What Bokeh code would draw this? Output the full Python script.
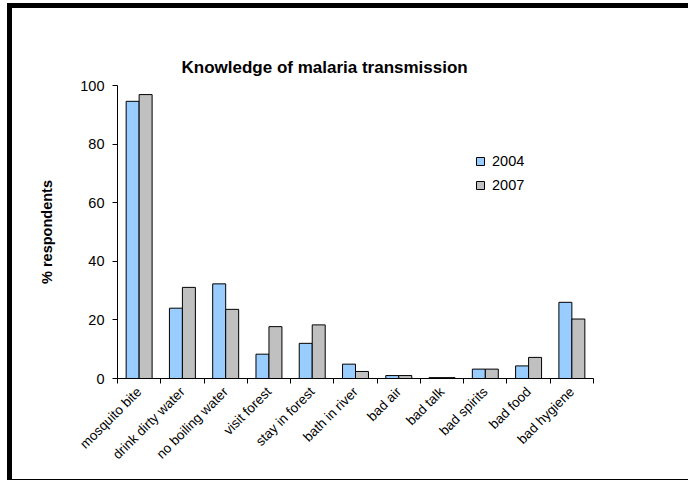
import numpy as np
from bokeh.plotting import figure
from bokeh.models import Range1d, FixedTicker, ColumnDataSource, Legend, LegendItem
from bokeh.embed import file_html
from bokeh.resources import INLINE

categories = ["mosquito bite", "drink dirty water", "no boiling water", "visit forest",
              "stay in forest", "bath in river", "bad air", "bad talk", "bad spirits",
              "bad food", "bad hygiene"]
y2004 = [94.6, 24.0, 32.3, 8.3, 12.0, 4.9, 1.0, 0.3, 3.2, 4.3, 26.0]
y2007 = [96.9, 31.1, 23.6, 17.7, 18.3, 2.4, 1.0, 0.3, 3.2, 7.2, 20.3]
y_ticks = [0, 20, 40, 60, 80, 100]

FONT = "Liberation Sans"
idx = np.arange(len(categories))

p = figure(width=681, height=477, output_backend="svg", toolbar_location=None,
           x_range=Range1d(-0.5, len(categories) - 0.5), y_range=Range1d(0, 100),
           min_border_left=105, min_border_right=100, min_border_top=77, min_border_bottom=107,
           styles={"margin-top": "3px", "margin-left": "7px",
                   "border-left": "5px solid black", "border-top": "5px solid black",
                   "border-bottom": "1px solid black"})
p.outline_line_color = None
p.xgrid.grid_line_color = None
p.ygrid.grid_line_color = None
p.background_fill_color = "white"
p.border_fill_color = "white"

src = ColumnDataSource(dict(x1=idx - 0.15, x2=idx + 0.15, a=y2004, b=y2007))
r1 = p.vbar(x="x1", top="a", width=0.3, source=src, fill_color="#99CCFF", line_color="black", line_width=1)
r2 = p.vbar(x="x2", top="b", width=0.3, source=src, fill_color="#C0C0C0", line_color="black", line_width=1)

p.title.text = "Knowledge of malaria transmission"
p.title.text_font = FONT
p.title.text_font_size = "17px"
p.title.text_font_style = "bold"
p.title.text_color = "black"
p.title.align = "left"
p.title.offset = 64
p.title.standoff = 18

xa = p.xaxis[0]
xa.ticker = FixedTicker(ticks=list(idx), minor_ticks=list(np.arange(len(categories) + 1) - 0.5))
xa.major_label_overrides = {int(i): c for i, c in zip(idx, categories)}
xa.major_tick_out = 0
xa.major_tick_in = 0
xa.minor_tick_out = 5
xa.minor_tick_in = 0
xa.minor_tick_line_color = "black"
xa.major_label_orientation = np.pi / 4
xa.major_label_text_font = FONT
xa.major_label_text_font_size = "13.5px"
xa.major_label_text_color = "black"
xa.major_label_standoff = 6
xa.axis_line_color = "black"

ya = p.yaxis[0]
ya.ticker = FixedTicker(ticks=y_ticks, minor_ticks=[])
ya.major_tick_out = 5
ya.major_tick_in = 0
ya.minor_tick_out = 0
ya.minor_tick_in = 0
ya.major_label_text_font = FONT
ya.major_label_text_font_size = "14.5px"
ya.major_label_text_color = "black"
ya.major_label_standoff = 8
ya.axis_label = "% respondents"
ya.axis_label_text_font = FONT
ya.axis_label_text_font_size = "14.5px"
ya.axis_label_text_font_style = "bold"
ya.axis_label_text_color = "black"
ya.axis_label_standoff = 22
ya.axis_line_color = "black"

legend = Legend(items=[LegendItem(label="2004", renderers=[r1]),
                       LegendItem(label="2007", renderers=[r2])],
                location=(358, 185), padding=0, margin=0, spacing=8,
                glyph_width=10, glyph_height=10, label_height=15, label_standoff=7,
                label_text_font=FONT, label_text_font_size="14.5px",
                label_text_color="black",
                border_line_color=None, background_fill_alpha=0)
p.add_layout(legend, "center")

open("out.html", "w").write(file_html(p, INLINE))
